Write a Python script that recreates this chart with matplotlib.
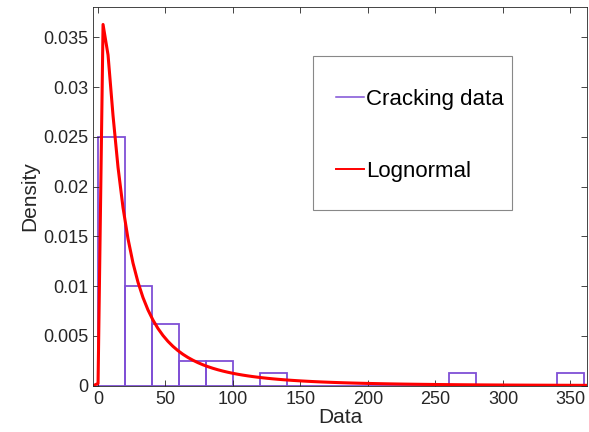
import numpy as np
import matplotlib.pyplot as plt
from matplotlib.lines import Line2D
from matplotlib.patches import Rectangle

plt.rcParams['font.family'] = ['Liberation Sans', 'DejaVu Sans']

# histogram of cracking data (bin width 20)
bin_edges = np.arange(0, 380, 20)
counts = np.array([20, 8, 5, 2, 2, 0, 1, 0, 0, 0, 0, 0, 0, 1, 0, 0, 0, 1])
n_total = 40

# fitted lognormal parameters
mu = 2.927
sigma = 1.2

density = counts / (n_total * 20.0)

purple = '#7f4fd6'
W, H = 589, 432

fig = plt.figure(figsize=(5.89, 4.32), dpi=100)
ax = fig.add_axes([0.158, 0.107, 0.839, 0.876])

ax.bar(bin_edges[:-1], density, width=20, align='edge', fill=False,
       edgecolor=purple, linewidth=1.3)

xlim = (-3.6, 362.4)
xs = np.linspace(xlim[0], xlim[1], 100)
pdf = np.zeros_like(xs)
pos = xs > 0
pdf[pos] = np.exp(-(np.log(xs[pos]) - mu) ** 2 / (2 * sigma ** 2)) / (xs[pos] * sigma * np.sqrt(2 * np.pi))
ax.plot(xs, pdf, color='#ff0000', linewidth=2.2)

ax.set_xlim(*xlim)
ax.set_ylim(0, 0.038)
ax.set_xticks(np.arange(0, 351, 50))
ax.set_yticks([0, 0.005, 0.01, 0.015, 0.02, 0.025, 0.03, 0.035])
ax.set_yticklabels(['0', '0.005', '0.01', '0.015', '0.02', '0.025', '0.03', '0.035'])
ax.tick_params(direction='in', top=True, right=True, labelsize=13, colors='#262626',
               length=4, width=0.6)
for s in ax.spines.values():
    s.set_color('#262626')
    s.set_linewidth(0.6)

ax.set_xlabel('Data', fontsize=15, color='#262626', labelpad=0)
ax.set_ylabel('Density', fontsize=15, color='#262626', labelpad=3)

# legend frame drawn separately (MATLAB-like box)
ax.add_patch(Rectangle((313 / W, 1 - 210 / H), (512 - 313) / W, (210 - 55.7) / H,
                       transform=fig.transFigure, fill=True, facecolor='white',
                       edgecolor='#888888', linewidth=0.8, zorder=5, clip_on=False))

handles = [Line2D([], [], color=purple, linewidth=1.1),
           Line2D([], [], color='#ff0000', linewidth=1.4)]
leg = ax.legend(handles, ['Cracking data', 'Lognormal'], loc='upper left',
                bbox_to_anchor=(336 / W, 1 - 89 / H), bbox_transform=fig.transFigure,
                fontsize=16, frameon=False, borderpad=0, labelspacing=2.3,
                handlelength=1.25, handletextpad=0.1, borderaxespad=0)
leg.set_zorder(6)

plt.savefig('out.png', dpi=100)
